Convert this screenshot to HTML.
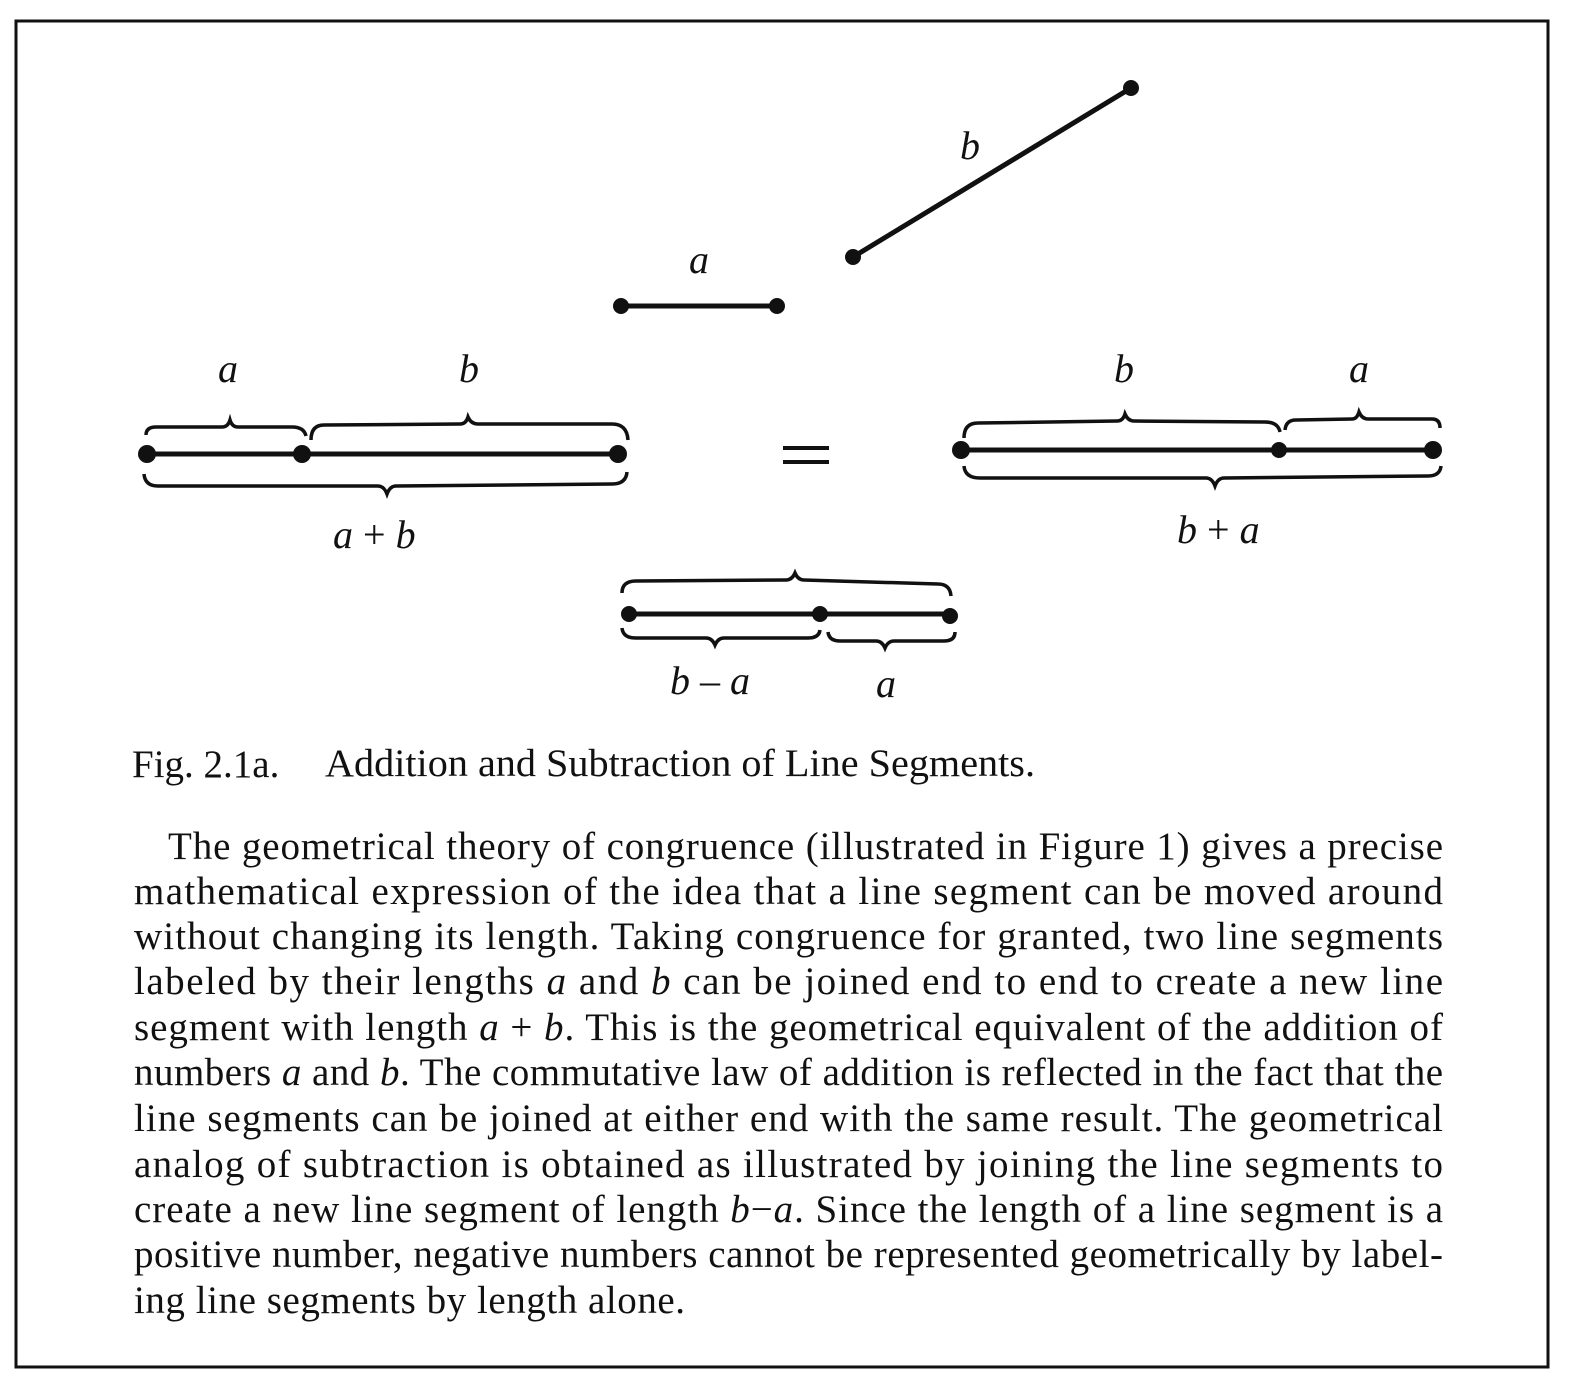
<!DOCTYPE html>
<html><head><meta charset="utf-8"><style>
html,body{margin:0;padding:0;background:#fff;}
svg{display:block;}
text{font-family:"Liberation Serif",serif;fill:#111;}
.l{font-style:italic;font-size:40px;}
.p{font-size:39px;}
</style></head><body>
<svg width="1578" height="1388" viewBox="0 0 1578 1388">
<rect x="16" y="21" width="1532" height="1346" fill="none" stroke="#111" stroke-width="3"/>
<g stroke="#111" stroke-width="5" fill="none" stroke-linecap="round">
<line x1="621" y1="306" x2="777" y2="306"/>
<line x1="853" y1="257" x2="1131" y2="88"/>
<line x1="146" y1="454" x2="618" y2="454"/>
<line x1="961" y1="450" x2="1433" y2="450"/>
<line x1="628" y1="614" x2="950" y2="614"/>
</g>
<g fill="#111">
<circle cx="621" cy="306" r="8"/><circle cx="777" cy="306" r="8"/>
<circle cx="853" cy="257" r="8"/><circle cx="1131" cy="88" r="8"/>
<circle cx="147" cy="454" r="9"/><circle cx="302" cy="454" r="9"/><circle cx="618" cy="454" r="9"/>
<circle cx="961" cy="450" r="9"/><circle cx="1279" cy="450" r="8"/><circle cx="1433" cy="450" r="9"/>
<circle cx="629" cy="614" r="8"/><circle cx="820" cy="614" r="8"/><circle cx="950" cy="616" r="8"/>
<rect x="783" y="446" width="46" height="4"/><rect x="783" y="460" width="46" height="4"/>
</g>
<g stroke="#111" stroke-width="3.5" fill="none">
<path d="M146 435 Q146 427 156 427 L222 427 Q228 427 230 420 Q232 427 238 427 L292 427 Q304 427 306 436"/>
<path d="M311 440 Q311 425 324 425 L460 424 Q466 424 468 417 Q471 424 478 424 L612 424 Q627 424 628 440"/>
<path d="M964 438 Q964 423 978 423 L1117 421 Q1123 421 1125 414 Q1128 421 1134 421 L1265 422 Q1278 422 1280 432"/>
<path d="M1285 430 Q1286 420 1296 420 L1352 419 Q1357 419 1359 412 Q1362 419 1368 419 L1432 419 Q1440 419 1440 428"/>
<path d="M622 593 Q622 581 636 581 L786 580 Q792 580 795 573 Q798 580 804 580 L938 584 Q950 584 951 596"/>
<path d="M144 474 Q145 486 158 486 L378 486 Q384 486 387 494 Q390 486 396 486 L612 484 Q626 484 627 472"/>
<path d="M964 466 Q965 478 980 478 L1206 478 Q1212 478 1215 486 Q1218 478 1224 478 L1428 476 Q1440 476 1441 466"/>
<path d="M622 628 Q623 638 636 638 L706 638 Q712 638 715 645 Q718 638 724 638 L808 638 Q819 638 820 630"/>
<path d="M828 632 Q829 641 840 641 L876 641 Q882 641 885 648 Q888 641 894 641 L944 641 Q955 641 955 632"/>
</g>
<text class="l" x="689" y="273">a</text>
<text class="l" x="960" y="159">b</text>
<text class="l" x="218" y="382">a</text>
<text class="l" x="459" y="382">b</text>
<text class="l" x="1114" y="382">b</text>
<text class="l" x="1349" y="382">a</text>
<text class="l" x="333" y="548">a <tspan font-style="normal">+</tspan> b</text>
<text class="l" x="1177" y="543">b <tspan font-style="normal">+</tspan> a</text>
<text class="l" x="670" y="694">b <tspan font-style="normal">–</tspan> a</text>
<text class="l" x="876" y="697">a</text>
<text class="p" x="132" y="777" font-size="36">Fig. 2.1a.</text>
<text class="p" x="325" y="776" textLength="710" lengthAdjust="spacingAndGlyphs">Addition and Subtraction of Line Segments.</text>
<text class="p" x="168" y="859" textLength="1275" lengthAdjust="spacing">The geometrical theory of congruence (illustrated in Figure 1) gives a precise</text>
<text class="p" x="134" y="904" textLength="1309" lengthAdjust="spacing">mathematical expression of the idea that a line segment can be moved around</text>
<text class="p" x="134" y="949" textLength="1309" lengthAdjust="spacing">without changing its length. Taking congruence for granted, two line segments</text>
<text class="p" x="134" y="994" textLength="1309" lengthAdjust="spacing">labeled by their lengths <tspan font-style="italic">a</tspan> and <tspan font-style="italic">b</tspan> can be joined end to end to create a new line</text>
<text class="p" x="134" y="1040" textLength="1309" lengthAdjust="spacing">segment with length <tspan font-style="italic">a</tspan> + <tspan font-style="italic">b</tspan>. This is the geometrical equivalent of the addition of</text>
<text class="p" x="134" y="1085" textLength="1309" lengthAdjust="spacing">numbers <tspan font-style="italic">a</tspan> and <tspan font-style="italic">b</tspan>. The commutative law of addition is reflected in the fact that the</text>
<text class="p" x="134" y="1131" textLength="1309" lengthAdjust="spacing">line segments can be joined at either end with the same result. The geometrical</text>
<text class="p" x="134" y="1177" textLength="1309" lengthAdjust="spacing">analog of subtraction is obtained as illustrated by joining the line segments to</text>
<text class="p" x="134" y="1222" textLength="1309" lengthAdjust="spacing">create a new line segment of length <tspan font-style="italic">b</tspan>−<tspan font-style="italic">a</tspan>. Since the length of a line segment is a</text>
<text class="p" x="134" y="1267" textLength="1309" lengthAdjust="spacing">positive number, negative numbers cannot be represented geometrically by label-</text>
<text class="p" x="134" y="1313" textLength="551" lengthAdjust="spacing">ing line segments by length alone.</text>
</svg>
</body></html>
